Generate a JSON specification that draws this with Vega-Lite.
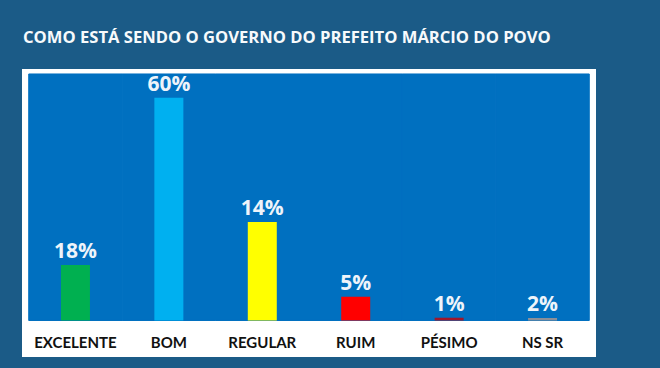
{
  "$schema": "https://vega.github.io/schema/vega-lite/v6.json",
  "autosize": {"type": "none"},
  "padding": {"left": 22, "top": 69, "right": 64, "bottom": 11},
  "width": 574,
  "height": 288,
  "background": "#1b5b87",
  "view": {"fill": "#ffffff", "stroke": null},
  "title": {
    "text": "COMO ESTÁ SENDO O GOVERNO DO PREFEITO MÁRCIO DO POVO",
    "anchor": "start",
    "frame": "group",
    "font": "Open Sans",
    "fontSize": 16.6,
    "fontWeight": "bold",
    "color": "#f7fafc",
    "offset": 22,
    "dx": 1
  },
  "data": {
    "values": [
      {"categoria": "EXCELENTE", "barra": 14.95, "rotulo": "18%"},
      {"categoria": "BOM", "barra": 60, "rotulo": "60%"},
      {"categoria": "REGULAR", "barra": 26.5, "rotulo": "14%"},
      {"categoria": "RUIM", "barra": 6.4, "rotulo": "5%"},
      {"categoria": "PÉSIMO", "barra": 0.75, "rotulo": "1%"},
      {"categoria": "NS SR", "barra": 0.7, "rotulo": "2%"}
    ]
  },
  "encoding": {
    "x": {
      "field": "categoria",
      "type": "nominal",
      "sort": null,
      "axis": null,
      "scale": {"paddingInner": 0, "paddingOuter": 0.072}
    }
  },
  "layer": [
    {
      "mark": {"type": "rect", "color": "#0070c0", "stroke": "#0070c0", "strokeWidth": 1},
      "encoding": {
        "y": {"datum": 66.39, "type": "quantitative", "axis": null, "scale": {"domain": [-9.83, 67.73], "nice": false, "zero": false}},
        "y2": {"datum": 0}
      }
    },
    {
      "mark": {"type": "bar", "size": 29},
      "encoding": {
        "y": {"field": "barra", "type": "quantitative", "axis": null},
        "color": {
          "field": "categoria",
          "type": "nominal",
          "legend": null,
          "scale": {
            "domain": ["EXCELENTE", "BOM", "REGULAR", "RUIM", "PÉSIMO", "NS SR"],
            "range": ["#00b050", "#00b0f0", "#ffff00", "#ff0000", "#a0162a", "#8a8f99"]
          }
        }
      }
    },
    {
      "mark": {"type": "text", "font": "Open Sans", "fontSize": 21, "fontWeight": "bold", "color": "#eef4fa", "baseline": "alphabetic", "dy": -7},
      "encoding": {
        "y": {"field": "barra", "type": "quantitative", "axis": null},
        "text": {"field": "rotulo"}
      }
    },
    {
      "mark": {"type": "text", "font": "Lato", "fontSize": 15, "fontWeight": "bold", "color": "#111111", "baseline": "middle"},
      "encoding": {
        "y": {"datum": -6.07, "type": "quantitative", "axis": null},
        "text": {"field": "categoria"}
      }
    }
  ]
}
